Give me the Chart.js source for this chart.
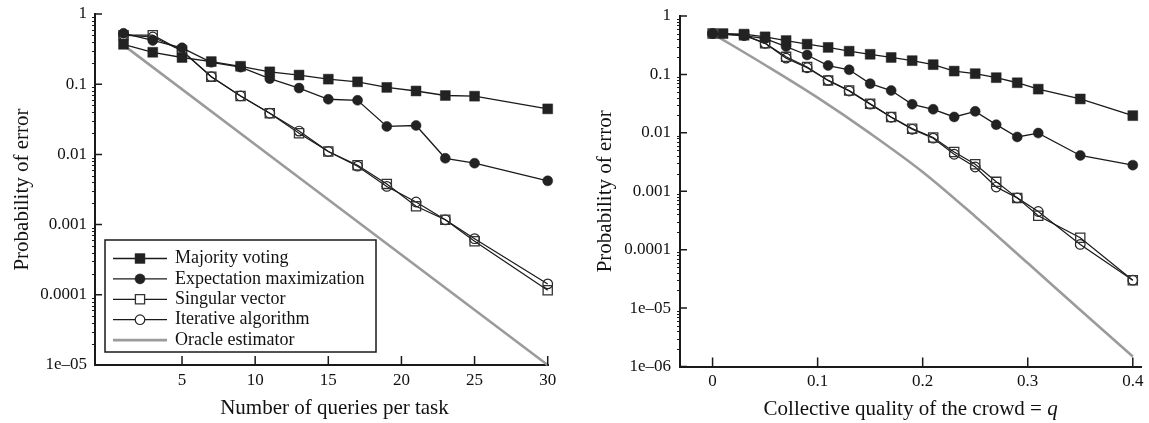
<!DOCTYPE html>
<html>
<head>
<meta charset="utf-8">
<script src="https://cdn.jsdelivr.net/npm/chart.js@4.4.1/dist/chart.umd.min.js"></script>
<style>
  html, body { margin: 0; padding: 0; background: #fff; }
  #wrap { position: relative; width: 1149px; height: 423px; }
  canvas { position: absolute; top: 0; }
  #left { left: 0; }
  #right { left: 574px; }
</style>
</head>
<body>
<div id="wrap">
  <canvas id="left" width="574" height="423"></canvas>
  <canvas id="right" width="575" height="423"></canvas>
</div>
<script>
// ---- data ----
const methodLabels = ['Majority voting', 'Expectation maximization', 'Singular vector', 'Iterative algorithm', 'Oracle estimator'];

// left panel: number of queries per task
const queries = [1, 3, 5, 7, 9, 11, 13, 15, 17, 19, 21, 23, 25, 30];
const mvQueries = [0.37, 0.285, 0.24, 0.21, 0.18, 0.15, 0.135, 0.118, 0.108, 0.09, 0.08, 0.069, 0.0675, 0.0445];
const emQueries = [0.53, 0.42, 0.33, 0.205, 0.175, 0.12, 0.088, 0.061, 0.059, 0.025, 0.0258, 0.0088, 0.0075, 0.0042];
const svQueries = [0.5, 0.5, 0.3, 0.128, 0.068, 0.0386, 0.02, 0.011, 0.007, 0.0038, 0.00182, 0.00117, 0.00058, 0.000116];
const iaQueries = [0.5, 0.47, 0.3, 0.128, 0.068, 0.0386, 0.0215, 0.011, 0.0068, 0.0035, 0.0021, 0.00117, 0.00063, 0.000143];
const oracleQueries = [1, 30];
const oracleQueriesErr = [0.36, 0.00001];
const queryTicks = [5, 10, 15, 20, 25, 30];
const queryTickLabels = ['5', '10', '15', '20', '25', '30'];
const errTicksLeft = [0.00001, 0.0001, 0.001, 0.01, 0.1, 1];
const errTickLabelsLeft = ['1e\u201305', '0.0001', '0.001', '0.01', '0.1', '1'];

// right panel: collective quality q
const qMajority = [0.01, 0.03, 0.05, 0.07, 0.09, 0.11, 0.13, 0.15, 0.17, 0.19, 0.21, 0.23, 0.25, 0.27, 0.29, 0.31, 0.35, 0.4];
const qOthers = [0, 0.03, 0.05, 0.07, 0.09, 0.11, 0.13, 0.15, 0.17, 0.19, 0.21, 0.23, 0.25, 0.27, 0.29, 0.31, 0.35, 0.4];
const mvQuality = [0.5, 0.49, 0.44, 0.38, 0.33, 0.29, 0.25, 0.221, 0.195, 0.172, 0.147, 0.114, 0.103, 0.088, 0.072, 0.056, 0.038, 0.0197];
const emQuality = [0.5, 0.46, 0.41, 0.3, 0.215, 0.142, 0.12, 0.0695, 0.053, 0.0308, 0.0253, 0.0187, 0.0233, 0.0138, 0.0085, 0.0099, 0.0041, 0.0028];
const svQuality = [0.5, 0.47, 0.34, 0.2, 0.134, 0.079, 0.053, 0.0316, 0.0187, 0.0118, 0.0083, 0.0047, 0.0029, 0.00145, 0.00077, 0.00038, 0.00016, 0.00003];
const iaQuality = [0.5, 0.47, 0.34, 0.19, 0.13, 0.079, 0.052, 0.031, 0.0185, 0.0115, 0.0081, 0.0043, 0.0026, 0.00118, 0.00077, 0.00045, 0.000123, 0.00003];
const qOracle = [0, 0.05, 0.1, 0.15, 0.2, 0.25, 0.3, 0.35, 0.4];
const oracleQuality = [0.5, 0.145, 0.04, 0.0098, 0.00214, 0.00037, 0.0000589, 0.0000093, 0.00000148];
const qualityTicks = [0, 0.1, 0.2, 0.3, 0.4];
const qualityTickLabels = ['0', '0.1', '0.2', '0.3', '0.4'];
const errTicksRight = [0.000001, 0.00001, 0.0001, 0.001, 0.01, 0.1, 1];
const errTickLabelsRight = ['1e\u201306', '1e\u201305', '0.0001', '0.001', '0.01', '0.1', '1'];

// ---- styles ----
const SERIF = 'Liberation Serif, Times New Roman, serif';
const INK = '#1a1a1a';

const styles = [
  { pointStyle: 'rect', pointRadius: 7, pointBackgroundColor: '#222', pointBorderColor: '#222', pointBorderWidth: 0.5, borderColor: INK, borderWidth: 1.3 },
  { pointStyle: 'circle', pointRadius: 5, pointBackgroundColor: '#222', pointBorderColor: '#222', pointBorderWidth: 0.5, borderColor: INK, borderWidth: 1.3 },
  { pointStyle: 'rect', pointRadius: 6.5, pointBackgroundColor: 'rgba(0,0,0,0)', pointBorderColor: '#333', pointBorderWidth: 1.3, borderColor: INK, borderWidth: 1.2 },
  { pointStyle: 'circle', pointRadius: 4.8, pointBackgroundColor: 'rgba(0,0,0,0)', pointBorderColor: '#222', pointBorderWidth: 1.2, borderColor: INK, borderWidth: 1.2 },
  { pointRadius: 0, borderColor: '#9b9b9b', borderWidth: 2.6, cubicInterpolationMode: 'monotone' }
];

function series(i, xs, ys) {
  return Object.assign({
    label: methodLabels[i],
    data: xs.map((x, k) => ({ x: x, y: ys[k] })),
    tension: 0,
    clip: false,
    pointHoverRadius: 0
  }, styles[i]);
}

// inward major ticks + short minor ticks on the log axis
const tickMarks = {
  id: 'tickMarks',
  afterDraw(chart) {
    const { ctx, chartArea, scales } = chart;
    const x = scales.x, y = scales.y;
    ctx.save();
    ctx.strokeStyle = INK;
    ctx.lineWidth = 1.5;
    ctx.beginPath();
    x.ticks.forEach(t => {
      const px = x.getPixelForValue(t.value);
      ctx.moveTo(px, chartArea.bottom);
      ctx.lineTo(px, chartArea.bottom - 9);
    });
    y.ticks.forEach(t => {
      const py = y.getPixelForValue(t.value);
      ctx.moveTo(chartArea.left, py);
      ctx.lineTo(chartArea.left + 7, py);
    });
    ctx.stroke();
    ctx.lineWidth = 1;
    ctx.beginPath();
    y.ticks.forEach(t => {
      for (let k = 2; k <= 9; k++) {
        const v = t.value * k;
        if (v >= y.max) break;
        const py = Math.round(y.getPixelForValue(v)) + 0.5;
        ctx.moveTo(chartArea.left - 3, py);
        ctx.lineTo(chartArea.left, py);
      }
    });
    ctx.stroke();
    ctx.restore();
  }
};

// x-axis caption, allows an italic piece
const xCaption = {
  id: 'xCaption',
  afterDraw(chart, args, opts) {
    if (!opts.parts) return;
    const ctx = chart.ctx;
    const fonts = opts.parts.map(p => (p.italic ? 'italic ' : '') + '21px ' + SERIF);
    ctx.save();
    let total = 0;
    const widths = opts.parts.map((p, i) => { ctx.font = fonts[i]; const w = ctx.measureText(p.text).width; total += w; return w; });
    const a = chart.chartArea;
    let cx = (a.left + a.right) / 2 + (opts.dx || 0) - total / 2;
    const cy = a.bottom + 43;
    ctx.fillStyle = '#111';
    ctx.textBaseline = 'middle';
    opts.parts.forEach((p, i) => {
      ctx.font = fonts[i];
      ctx.fillText(p.text, cx, cy);
      cx += widths[i];
    });
    ctx.restore();
  }
};

// boxed legend with line + marker samples
const boxLegend = {
  id: 'boxLegend',
  afterDraw(chart, args, opts) {
    if (!opts.box) return;
    const ctx = chart.ctx;
    const b = opts.box;
    ctx.save();
    ctx.fillStyle = '#fff';
    ctx.fillRect(b.left, b.top, b.right - b.left, b.bottom - b.top);
    ctx.strokeStyle = INK;
    ctx.lineWidth = 1.5;
    ctx.strokeRect(b.left, b.top, b.right - b.left, b.bottom - b.top);
    ctx.font = '18px ' + SERIF;
    ctx.textBaseline = 'middle';
    chart.data.datasets.forEach((ds, i) => {
      const yy = b.top + opts.firstRow + i * opts.rowGap;
      const x0 = b.left + 8, x1 = x0 + 54, xm = (x0 + x1) / 2;
      ctx.strokeStyle = ds.borderColor;
      ctx.lineWidth = ds.borderWidth;
      ctx.beginPath();
      ctx.moveTo(x0, yy);
      ctx.lineTo(x1, yy);
      ctx.stroke();
      if (ds.pointRadius > 0) {
        ctx.beginPath();
        if (ds.pointStyle === 'rect') {
          const s = ds.pointRadius * Math.SQRT1_2;
          ctx.rect(xm - s, yy - s, 2 * s, 2 * s);
        } else {
          ctx.arc(xm, yy, ds.pointRadius, 0, Math.PI * 2);
        }
        ctx.fillStyle = ds.pointBackgroundColor === 'rgba(0,0,0,0)' ? '#fff' : ds.pointBackgroundColor;
        ctx.fill();
        ctx.strokeStyle = ds.pointBorderColor;
        ctx.lineWidth = ds.pointBorderWidth;
        ctx.stroke();
      }
      ctx.fillStyle = '#111';
      ctx.fillText(ds.label, x1 + 8, yy);
    });
    ctx.restore();
  }
};

function makeChart(id, c) {
  return new Chart(document.getElementById(id), {
    type: 'line',
    data: { datasets: c.datasets },
    options: {
      responsive: false,
      animation: false,
      devicePixelRatio: 1,
      layout: { padding: c.padding },
      plugins: {
        legend: { display: false },
        tooltip: { enabled: false },
        boxLegend: c.legend || {},
        xCaption: c.caption
      },
      scales: {
        x: {
          type: 'linear',
          min: c.xMin,
          max: c.xMax,
          afterBuildTicks: s => { s.ticks = c.xTicks.map(v => ({ value: v })); },
          afterFit: s => { s.height = c.xAxisHeight; s.paddingLeft = 0; s.paddingRight = 0; },
          grid: { display: true, drawOnChartArea: false, drawTicks: false },
          border: { display: true, color: INK, width: 2 },
          ticks: {
            padding: 5,
            maxRotation: 0,
            color: '#111',
            font: { family: SERIF, size: 17 },
            callback: (v, i) => c.xTickLabels[i]
          }
        },
        y: {
          type: 'logarithmic',
          min: c.yMin,
          max: c.yMax,
          afterBuildTicks: s => { s.ticks = c.yTicks.map(v => ({ value: v })); },
          afterFit: s => { s.width = c.yAxisWidth; s.paddingTop = 0; s.paddingBottom = 0; },
          grid: { display: true, drawOnChartArea: false, drawTicks: false },
          border: { display: true, color: INK, width: 2 },
          ticks: {
            padding: c.yLabelPad,
            color: '#111',
            font: { family: SERIF, size: 17 },
            callback: (v, i) => c.yTickLabels[i]
          },
          title: {
            display: true,
            text: 'Probability of error',
            color: '#111',
            font: { family: SERIF, size: 21 },
            padding: { top: c.yTitlePad, bottom: 0 }
          }
        }
      }
    },
    plugins: [tickMarks, xCaption, boxLegend]
  });
}

makeChart('left', {
  datasets: [
    series(0, queries, mvQueries),
    series(1, queries, emQueries),
    series(2, queries, svQueries),
    series(3, queries, iaQueries),
    series(4, oracleQueries, oracleQueriesErr)
  ],
  padding: { left: 0, right: 26, top: 14, bottom: 0 },
  xMin: -0.95, xMax: 30.02, xTicks: queryTicks, xTickLabels: queryTickLabels, xAxisHeight: 58,
  yMin: 0.00001, yMax: 1, yTicks: errTicksLeft, yTickLabels: errTickLabelsLeft,
  yAxisWidth: 95, yLabelPad: 8, yTitlePad: 9.4,
  caption: { parts: [{ text: 'Number of queries per task' }], dx: 13 },
  legend: { box: { left: 105, top: 240, right: 376, bottom: 352 }, firstRow: 18.5, rowGap: 20.4 }
});

makeChart('right', {
  datasets: [
    series(0, qMajority, mvQuality),
    series(1, qOthers, emQuality),
    series(2, qOthers, svQuality),
    series(3, qOthers, iaQuality),
    series(4, qOracle, oracleQuality)
  ],
  padding: { left: 0, right: 7, top: 16, bottom: 0 },
  xMin: -0.031, xMax: 0.408, xTicks: qualityTicks, xTickLabels: qualityTickLabels, xAxisHeight: 56.5,
  yMin: 0.000001, yMax: 1, yTicks: errTicksRight, yTickLabels: errTickLabelsRight,
  yAxisWidth: 106, yLabelPad: 9, yTitlePad: 18.4,
  caption: { parts: [{ text: 'Collective quality of the crowd = ' }, { text: 'q', italic: true }], dx: 0 }
});
</script>
</body>
</html>
